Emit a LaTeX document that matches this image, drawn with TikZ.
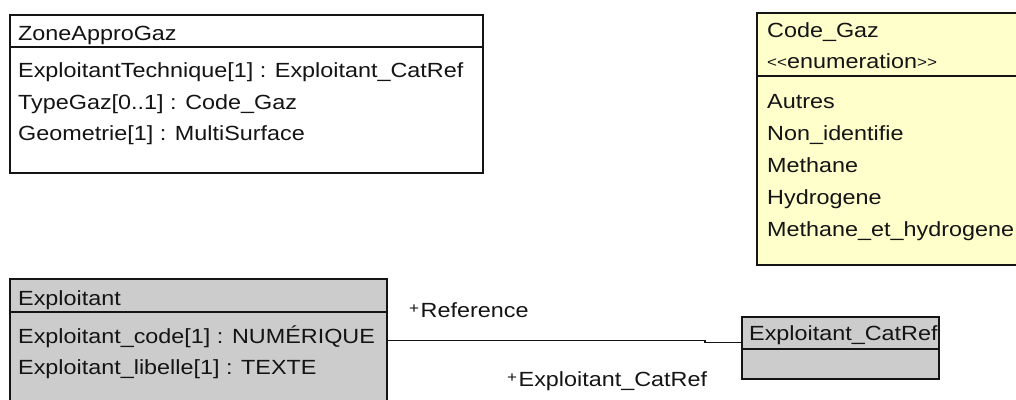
\documentclass[tikz,border=0pt]{standalone}
\usepackage{fontspec}
\setmainfont{Liberation Sans}[FakeStretch=1.14]
\definecolor{umlgray}{RGB}{204,204,204}
\definecolor{umlyellow}{RGB}{255,255,204}
\definecolor{ink}{RGB}{20,20,20}
\newcommand{\plusmark}{\raisebox{4pt}{\fontsize{15}{15}\selectfont +}\hspace{1.5pt}}
\newcommand{\smallangle}[1]{\raisebox{1pt}{\fontsize{15}{15}\selectfont #1}}
\begin{document}
\begin{tikzpicture}[x=1pt,y=-1pt,
  classbox/.style={draw=ink,line width=1.4pt,anchor=north west,inner sep=0pt,outer sep=0pt},
  sepline/.style={draw=ink,line width=1.4pt},
  conn/.style={draw=ink,line width=1.2pt},
  txt/.style={anchor=base west,inner sep=0pt,text=ink,font=\fontsize{20.5}{24}\selectfont},
  role/.style={anchor=base west,inner sep=0pt,text=ink,font=\fontsize{20.5}{24}\selectfont}]
\useasboundingbox (0,0) rectangle (1016,399);
\clip (0,0) rectangle (1016,399);
% ZoneApproGaz
\node[classbox,fill=white,minimum width=473pt,minimum height=158pt] (zone) at (10,15) {};
\draw[sepline] (zone.west |- 0,47) -- (zone.east |- 0,47);
\node[txt] (zoneT) at (18,40) {ZoneApproGaz};
\node[txt] (zoneA1) at (18,77.5) {ExploitantTechnique[1] : Exploitant\_CatRef};
\node[txt] (zoneA2) at (18,109) {TypeGaz[0..1] : Code\_Gaz};
\node[txt] (zoneA3) at (18,140.5) {Geometrie[1] : MultiSurface};
% Code_Gaz
\node[classbox,fill=umlyellow,minimum width=280pt,minimum height=252pt] (code) at (757,13) {};
\draw[sepline] (code.west |- 0,76) -- (code.east |- 0,76);
\node[txt] (codeT) at (767,37) {Code\_Gaz};
\node[txt] (codeS) at (767,68) {\smallangle{{<}{<}}enumeration\smallangle{{>}{>}}};
\node[txt] (codeA1) at (767,108.5) {Autres};
\node[txt] (codeA2) at (767,140.5) {Non\_identifie};
\node[txt] (codeA3) at (767,172) {Methane};
\node[txt] (codeA4) at (767,204) {Hydrogene};
\node[txt] (codeA5) at (767,236) {Methane\_et\_hydrogene};
% Exploitant
\node[classbox,fill=umlgray,minimum width=377pt,minimum height=140pt] (expl) at (10,279) {};
\draw[sepline] (expl.west |- 0,312) -- (expl.east |- 0,312);
\node[txt] (explT) at (18,305.5) {Exploitant};
\node[txt] (explA1) at (18,343.5) {Exploitant\_code[1] : NUMÉRIQUE};
\node[txt] (explA2) at (18,374.5) {Exploitant\_libelle[1] : TEXTE};
% Exploitant_CatRef
\node[classbox,fill=umlgray,minimum width=197pt,minimum height=62pt] (cat) at (742,317) {};
\draw[sepline] (cat.west |- 0,349) -- (cat.east |- 0,349);
\node[txt] (catT) at (749,340.5) {Exploitant\_CatRef};
% association
\coordinate (bendA) at (705,340.5);
\coordinate (bendB) at (705,342.5);
\draw[conn] (expl.east |- bendA) -- (bendA) -- (bendB) -- (cat.west |- bendB);
\node[role] (roleRef) at (409,317.5) {\plusmark Reference};
\node[role] (roleCat) at (507,386.5) {\plusmark Exploitant\_CatRef};
\end{tikzpicture}
\end{document}
